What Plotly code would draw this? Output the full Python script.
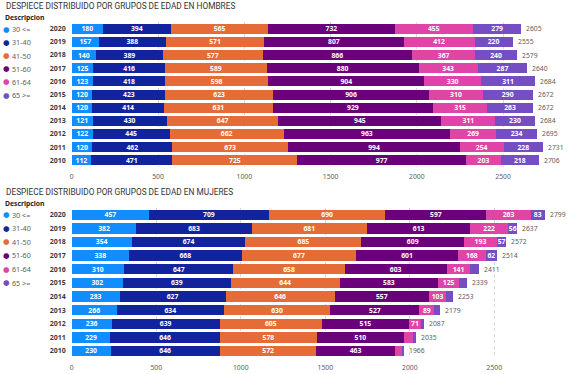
import plotly.graph_objects as go

# ---------------- data ----------------
years = ["2020", "2019", "2018", "2017", "2016", "2015", "2014", "2013", "2012", "2011", "2010"]
groups = ["30 <=", "31-40", "41-50", "51-60", "61-64", "65 >="]
x_ticks = [0, 500, 1000, 1500, 2000, 2500]

men_30 = [180, 157, 140, 125, 123, 120, 120, 121, 122, 120, 112]
men_31_40 = [394, 388, 389, 416, 418, 423, 414, 430, 445, 462, 471]
men_41_50 = [565, 571, 577, 589, 598, 623, 631, 647, 662, 673, 725]
men_51_60 = [732, 807, 866, 880, 904, 906, 929, 945, 963, 994, 977]
men_61_64 = [455, 412, 367, 343, 330, 310, 315, 311, 269, 254, 203]
men_65 = [279, 220, 240, 287, 311, 290, 263, 230, 234, 228, 218]

women_30 = [457, 382, 354, 338, 310, 302, 283, 266, 236, 229, 230]
women_31_40 = [709, 683, 674, 668, 647, 639, 627, 634, 639, 646, 646]
women_41_50 = [690, 681, 685, 677, 658, 644, 646, 630, 605, 578, 572]
women_51_60 = [597, 613, 609, 601, 603, 583, 557, 527, 515, 510, 463]
women_61_64 = [263, 222, 193, 168, 141, 125, 103, 89, 71, 54, 45]
women_65 = [83, 56, 57, 62, 52, 46, 37, 33, 21, 18, 10]

title_men = "DESPIECE DISTRIBUIDO POR GRUPOS DE EDAD EN HOMBRES"
title_women = "DESPIECE DISTRIBUIDO POR GRUPOS DE EDAD EN MUJERES"
legend_title = "Descripcion"

# ---------------- style ----------------
colors = ["#118DFF", "#12239E", "#E66C37", "#6B007B", "#E044A7", "#744EC2"]
W, H = 567, 374
FONT = "Noto Sans"
GRAY = "#605E5C"
DARK = "#252423"
MIN_LABEL = 55  # labels hidden when the segment is too narrow


def fx(p):
    return p / W


def fy(p):
    return 1 - p / H


men = [men_30, men_31_40, men_41_50, men_51_60, men_61_64, men_65]
women = [women_30, women_31_40, women_41_50, women_51_60, women_61_64, women_65]

fig = go.Figure()
ann = []

for series, xa, ya in [(men, "x", "y"), (women, "x2", "y2")]:
    for g, vals, c in zip(groups, series, colors):
        fig.add_trace(go.Bar(
            x=vals, y=years, orientation="h", name=g,
            marker=dict(color=c, line=dict(width=0)),
            text=[str(v) if v >= MIN_LABEL else "" for v in vals],
            textposition="inside", insidetextanchor="middle",
            textangle=0, constraintext="none",
            textfont=dict(color="white", size=6.8, family=FONT, weight="bold"),
            xaxis=xa, yaxis=ya, showlegend=False,
        ))
    totals = [sum(t) for t in zip(*series)]
    # category axes: annotations use the serial index of each category
    for idx, t in enumerate(totals):
        ann.append(dict(x=t, y=idx, xref=xa, yref=ya, text=str(t), showarrow=False,
                        xanchor="left", yanchor="middle", xshift=3,
                        font=dict(color=GRAY, size=6.8, family=FONT)))

xcommon = dict(
    domain=[fx(70), fx(560)], showgrid=True, gridcolor="#D9D9D9", griddash="dot",
    gridwidth=1, zeroline=False, showline=False, ticks="",
    tickvals=x_ticks,
    tickfont=dict(size=6.8, color=GRAY, family=FONT), ticklabelstandoff=4,
)
ycommon = dict(
    type="category", categoryorder="array", categoryarray=years,
    range=[len(years) - 0.5, -0.5], autorange=False,
    showgrid=False, zeroline=False, showline=False, ticks="",
    tickfont=dict(size=7, color="#3B3A39", family=FONT, weight="bold"),
    ticklabelstandoff=5,
)

fig.update_layout(
    width=W, height=H, margin=dict(l=0, r=0, t=0, b=0),
    paper_bgcolor="white", plot_bgcolor="white",
    barmode="stack", bargap=0.24,
    xaxis=dict(xcommon, anchor="y", range=[0, 2830]),
    yaxis=dict(ycommon, anchor="x", domain=[fy(166.9), fy(22.1)]),
    xaxis2=dict(xcommon, anchor="y2", range=[0, 2889]),
    yaxis2=dict(ycommon, anchor="x2", domain=[fy(357.8), fy(207.9)]),
    showlegend=False,
)

for title, ty, dy, ly0, step in [(title_men, 6, 18, 29.3, 13.15),
                                 (title_women, 192.3, 204, 214.7, 13.6)]:
    ann.append(dict(x=fx(2), y=fy(ty), xref="paper", yref="paper", text=title,
                    showarrow=False, xanchor="left", yanchor="middle",
                    font=dict(size=8.3, color="#333333", family="Roboto")))
    ann.append(dict(x=fx(1.5), y=fy(dy), xref="paper", yref="paper", text=legend_title,
                    showarrow=False, xanchor="left", yanchor="middle",
                    font=dict(size=6.8, color=DARK, family=FONT, weight="bold")))
    for i, (g, c) in enumerate(zip(groups, colors)):
        yy = ly0 + i * step
        ann.append(dict(x=fx(4.6), y=fy(yy), xref="paper", yref="paper", text="●",
                        showarrow=False, xanchor="center", yanchor="middle",
                        font=dict(size=7.5, color=c, family="DejaVu Sans")))
        ann.append(dict(x=fx(8.5), y=fy(yy), xref="paper", yref="paper", text=g,
                        showarrow=False, xanchor="left", yanchor="middle",
                        font=dict(size=7.2, color=GRAY, family=FONT)))
fig.update_layout(annotations=ann)

fig.write_html("out.html", config={"displayModeBar": False},
               post_script="document.body.style.margin='0px';")
